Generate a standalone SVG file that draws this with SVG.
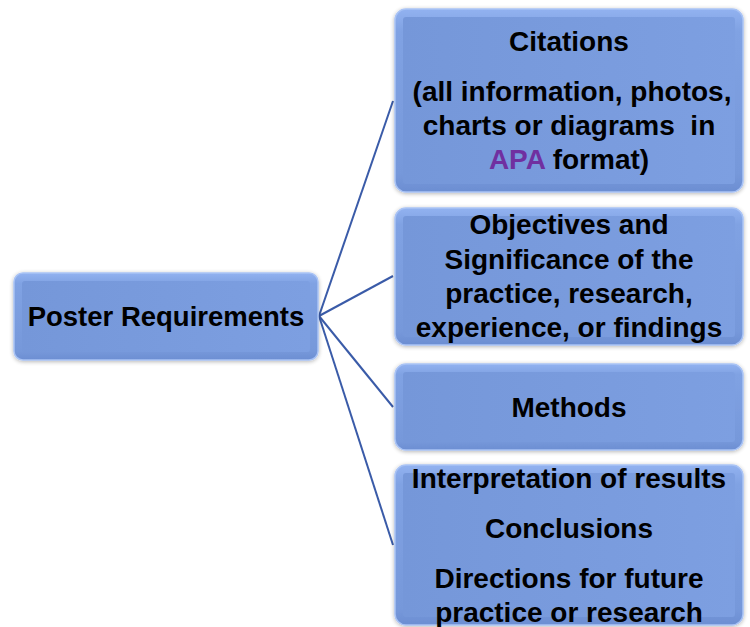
<svg xmlns="http://www.w3.org/2000/svg" width="750" height="627" viewBox="0 0 750 627">
<defs>
<linearGradient id="g" x1="0" y1="0" x2="0" y2="1">
<stop offset="0" stop-color="#92B2F0"/>
<stop offset="0.12" stop-color="#80A2E3"/>
<stop offset="0.9" stop-color="#7698DA"/>
<stop offset="1" stop-color="#6C8ED2"/>
</linearGradient>
<linearGradient id="gi" x1="0" y1="0" x2="1" y2="0">
<stop offset="0" stop-color="#7597D9"/>
<stop offset="1" stop-color="#7D9FE1"/>
</linearGradient>
<filter id="sh" x="-10%" y="-10%" width="120%" height="120%">
<feGaussianBlur in="SourceAlpha" stdDeviation="2"/>
<feOffset dx="0" dy="1"/>
<feComponentTransfer><feFuncA type="linear" slope="0.3"/></feComponentTransfer>
<feMerge><feMergeNode/><feMergeNode in="SourceGraphic"/></feMerge>
</filter>
</defs>
<style>
.box{fill:url(#g);stroke:#A9C3F5;stroke-width:1.5;filter:url(#sh)}
.inner{fill:url(#gi);stroke:none}
.t{font-family:"Liberation Sans",Arial,sans-serif;font-weight:bold;font-size:28px;fill:#000;text-anchor:middle}
.c{stroke:#3A5BA8;stroke-width:2;fill:none}
</style>
<g id="connectors">
<line class="c" x1="319" y1="316" x2="393" y2="101"/>
<line class="c" x1="319" y1="316" x2="393" y2="276"/>
<line class="c" x1="319" y1="316" x2="393" y2="407"/>
<line class="c" x1="319" y1="316" x2="393" y2="545"/>
</g>
<g id="poster-requirements">
<rect class="box" x="14" y="273" width="304" height="87" rx="9"/>
<rect class="inner" x="22" y="281" width="288" height="71" rx="3"/>
<text class="t" x="166" y="326" style="font-size:27.5px">Poster Requirements</text>
</g>
<g id="citations">
<rect class="box" x="395" y="9" width="348" height="183" rx="11"/>
<rect class="inner" x="403" y="17" width="332" height="167" rx="3"/>
<text class="t" x="569" y="51">Citations</text>
<text class="t" x="572" y="101">(all information, photos,</text>
<text class="t" x="569" y="135" xml:space="preserve" style="white-space:pre">charts or diagrams  in</text>
<text class="t" x="569" y="169"><tspan fill="#7030A0">APA</tspan> format)</text>
</g>
<g id="objectives">
<rect class="box" x="395" y="208" width="348" height="137" rx="11"/>
<rect class="inner" x="403" y="216" width="332" height="121" rx="3"/>
<text class="t" x="569" y="234">Objectives and</text>
<text class="t" x="569" y="269">Significance of the</text>
<text class="t" x="569" y="303">practice, research,</text>
<text class="t" x="569" y="337">experience, or findings</text>
</g>
<g id="methods">
<rect class="box" x="395" y="364" width="348" height="86" rx="11"/>
<rect class="inner" x="403" y="372" width="332" height="70" rx="3"/>
<text class="t" x="569" y="417">Methods</text>
</g>
<g id="conclusions">
<rect class="box" x="395" y="465" width="348" height="160" rx="11"/>
<rect class="inner" x="403" y="473" width="332" height="144" rx="3"/>
<text class="t" x="569" y="488">Interpretation of results</text>
<text class="t" x="569" y="538">Conclusions</text>
<text class="t" x="569" y="588">Directions for future</text>
<text class="t" x="569" y="622">practice or research</text>
</g>
</svg>
